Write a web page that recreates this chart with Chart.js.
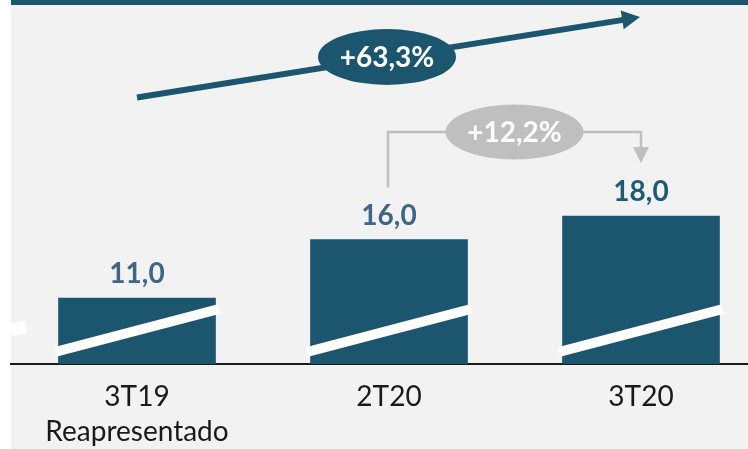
<!DOCTYPE html>
<html lang="pt">
  <head>
    <meta charset="UTF-8" />
    <title>3T20</title>
    <script src="https://cdn.jsdelivr.net/npm/chart.js"></script>
    <style>
      html, body { margin: 0; padding: 0; background: #ffffff; }
      body { width: 748px; height: 449px; overflow: hidden; }
      /* the chart is a bit wider/taller than the window, the page crops it */
      #wrap { width: 767px; height: 464px; }
    </style>
  </head>
  <body>
    <div id="wrap"><canvas id="myChart"></canvas></div>

    <script>
      // data
      var categories = [["3T19", "Reapresentado"], "2T20", "3T20"];
      var values = [11.0, 16.0, 18.0];
      var labelColors = ["#3f6589", "#3f6589", "#1c5a76"];
      var growthTotal = "+63,3%";
      var growthQuarter = "+12,2%";

      var teal = "#1c566e";
      var grey = "#bfbfbf";
      var bg = "#f2f2f2";

      function fmt(v) {
        return v.toFixed(1).replace(".", ",");
      }

      function arrowHead(ctx, x1, y1, x2, y2, len, half) {
        var a = Math.atan2(y2 - y1, x2 - x1);
        var bx = x2 - len * Math.cos(a);
        var by = y2 - len * Math.sin(a);
        ctx.beginPath();
        ctx.moveTo(x2, y2);
        ctx.lineTo(bx + half * Math.sin(a), by - half * Math.cos(a));
        ctx.lineTo(bx - half * Math.sin(a), by + half * Math.cos(a));
        ctx.closePath();
        ctx.fill();
        return [bx, by];
      }

      function pill(ctx, x, y, rx, ry, color, text) {
        ctx.fillStyle = color;
        ctx.beginPath();
        ctx.ellipse(x, y, rx, ry, 0, 0, Math.PI * 2);
        ctx.fill();
        ctx.fillStyle = "#ffffff";
        ctx.font = "bold 28px Lato";
        ctx.textAlign = "center";
        ctx.textBaseline = "middle";
        ctx.fillText(text, x, y + 1);
      }

      var backdrop = {
        id: "backdrop",
        beforeDraw: function (chart) {
          var ctx = chart.ctx;
          ctx.save();
          ctx.fillStyle = "#ffffff";
          ctx.fillRect(0, 0, chart.width, chart.height);
          ctx.fillStyle = bg;
          ctx.fillRect(11, 0, chart.width, chart.height);
          ctx.fillStyle = teal;
          ctx.fillRect(11, 0, chart.width, 5);
          ctx.restore();
        },
      };

      var decorations = {
        id: "decorations",
        afterDatasetsDraw: function (chart) {
          var ctx = chart.ctx;
          var bars = chart.getDatasetMeta(0).data;
          var base = chart.scales.y.getPixelForValue(chart.scales.y.min);
          ctx.save();

          // white slash across each bar
          ctx.strokeStyle = "#ffffff";
          ctx.lineWidth = 10;
          bars.forEach(function (b) {
            ctx.beginPath();
            ctx.moveTo(b.x - 82, base - 12);
            ctx.lineTo(b.x + 82, base - 55);
            ctx.stroke();
          });
          // bit of a slash cut at the left edge
          ctx.lineWidth = 13;
          ctx.beginPath();
          ctx.moveTo(11, 330);
          ctx.lineTo(26, 327);
          ctx.stroke();

          // value labels
          ctx.font = "bold 28px Lato";
          ctx.textAlign = "center";
          ctx.textBaseline = "alphabetic";
          bars.forEach(function (b, i) {
            ctx.fillStyle = labelColors[i];
            ctx.fillText(fmt(values[i]), b.x, b.y - 15);
          });

          // big growth arrow 3T19 -> 3T20
          var x1 = bars[0].x, y1 = 97.5, x2 = bars[2].x - 1, y2 = 17;
          ctx.fillStyle = teal;
          var hb = arrowHead(ctx, x1, y1, x2, y2, 18, 9.5);
          ctx.strokeStyle = teal;
          ctx.lineWidth = 6;
          ctx.beginPath();
          ctx.moveTo(x1, y1);
          ctx.lineTo(hb[0] + 1, hb[1]);
          ctx.stroke();
          pill(ctx, bars[1].x - 2, 57, 69, 28, teal, growthTotal);

          // quarter bracket 2T20 -> 3T20
          var top = 132;
          var lx = bars[1].x - 1, rx = bars[2].x;
          ctx.strokeStyle = grey;
          ctx.fillStyle = grey;
          ctx.lineWidth = 2.5;
          ctx.beginPath();
          ctx.moveTo(lx, bars[1].y - 52);
          ctx.lineTo(lx, top);
          ctx.lineTo(rx, top);
          ctx.lineTo(rx, bars[2].y - 66);
          ctx.stroke();
          arrowHead(ctx, rx, top, rx, bars[2].y - 53, 16, 8);
          pill(ctx, (lx + rx) / 2, top, 69, 27.5, grey, growthQuarter);

          ctx.restore();
        },
      };

      var ctx = document.getElementById("myChart").getContext("2d");
      window.myChart = new Chart(ctx, {
        type: "bar",
        data: {
          labels: categories,
          datasets: [
            {
              data: values,
              backgroundColor: teal,
              borderWidth: 0,
              barThickness: 157,
            },
          ],
        },
        options: {
          responsive: true,
          maintainAspectRatio: false,
          animation: false,
          layout: { padding: { left: 11, top: 0, right: 0, bottom: 0 } },
          plugins: {
            legend: { display: false },
            tooltip: { enabled: false },
          },
          scales: {
            x: {
              grid: { display: false, drawTicks: false },
              border: { display: true, color: "#1a1a1a", width: 2 },
              ticks: {
                color: "#1a1a1a",
                padding: 15,
                maxRotation: 0,
                font: { family: "Lato", size: 28, lineHeight: "35px" },
              },
            },
            y: {
              display: false,
              min: 5.36,
              max: 36.47,
            },
          },
        },
        plugins: [backdrop, decorations],
      });
    </script>
  </body>
</html>
